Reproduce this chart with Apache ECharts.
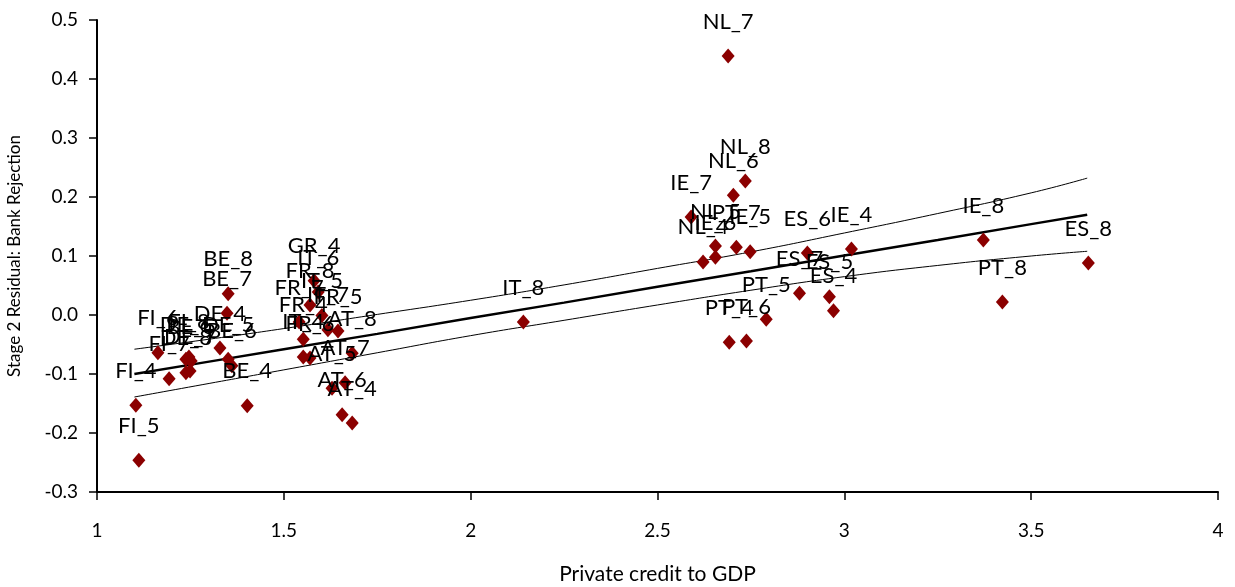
<!DOCTYPE html>
<html>
<head>
<meta charset="utf-8">
<script src="https://cdn.jsdelivr.net/npm/echarts@6/dist/echarts.min.js"></script>
<style>
  html, body { margin: 0; padding: 0; background: #fff; }
  #chart { width: 1235px; height: 587px; }
</style>
</head>
<body>
<div id="chart"></div>
<script>
// points: country_year, private credit to GDP, stage 2 residual
var names = ['FI_4', 'FI_5', 'FI_6', 'FI_7', 'FI_8',
  'BE_4', 'BE_5', 'BE_6', 'BE_7', 'BE_8',
  'DE_4', 'DE_5', 'DE_6', 'DE_7', 'DE_8',
  'GR_4', 'FR_4', 'FR_5', 'FR_6', 'FR_7', 'FR_8',
  'IT_4', 'IT_5', 'IT_6', 'IT_7', 'IT_8',
  'AT_4', 'AT_5', 'AT_6', 'AT_7', 'AT_8',
  'NL_4', 'NL_5', 'NL_6', 'NL_7', 'NL_8',
  'IE_4', 'IE_5', 'IE_6', 'IE_7', 'IE_8',
  'PT_4', 'PT_5', 'PT_6', 'PT_7', 'PT_8',
  'ES_4', 'ES_5', 'ES_6', 'ES_7', 'ES_8'];
var credit = [1.104, 1.112, 1.163, 1.193, 1.246,
  1.402, 1.252, 1.361, 1.348, 1.351,
  1.329, 1.351, 1.238, 1.249, 1.238,
  1.581, 1.552, 1.645, 1.570, 1.541, 1.570,
  1.552, 1.602, 1.592, 1.618, 2.141,
  1.683, 1.629, 1.656, 1.664, 1.683,
  2.622, 2.655, 2.703, 2.689, 2.735,
  3.019, 2.748, 2.655, 2.590, 3.372,
  2.692, 2.791, 2.738, 2.711, 3.423,
  2.971, 2.960, 2.901, 2.880, 3.653];
var residual = [-0.153, -0.246, -0.064, -0.108, -0.071,
  -0.154, -0.078, -0.086, 0.003, 0.036,
  -0.056, -0.075, -0.075, -0.095, -0.098,
  0.058, -0.041, -0.027, -0.073, -0.012, 0.017,
  -0.071, -0.001, 0.039, -0.025, -0.012,
  -0.183, -0.124, -0.169, -0.115, -0.065,
  0.090, 0.117, 0.203, 0.439, 0.227,
  0.112, 0.107, 0.098, 0.166, 0.127,
  -0.046, -0.007, -0.044, 0.115, 0.022,
  0.007, 0.031, 0.105, 0.037, 0.088];

// fitted line and its band
var bandX = [1.1, 1.3, 1.5, 1.75, 2.0, 2.25, 2.5, 2.75, 3.0, 3.25, 3.5, 3.65];
var fitY = [-0.100, -0.079, -0.058, -0.032, -0.005, 0.021, 0.048, 0.074, 0.101, 0.127, 0.154, 0.170];
var upperY = [-0.058, -0.041, -0.023, 0.001, 0.025, 0.051, 0.079, 0.107, 0.139, 0.172, 0.207, 0.232];
var lowerY = [-0.139, -0.116, -0.093, -0.064, -0.035, -0.009, 0.017, 0.042, 0.065, 0.084, 0.100, 0.108];

var xTicks = [1, 1.5, 2, 2.5, 3, 3.5, 4];
var yTicks = [-0.3, -0.2, -0.1, 0.0, 0.1, 0.2, 0.3, 0.4, 0.5];

function pairs(xs, ys) {
  return xs.map(function (x, i) { return [x, ys[i]]; });
}

var font = 'Lato, "DejaVu Sans", sans-serif';
var chart = echarts.init(document.getElementById('chart'));

var option = {
  animation: false,
  grid: { left: 97, right: 17, top: 20, bottom: 95, containLabel: false, outerBoundsMode: 'none' },
  xAxis: {
    type: 'value',
    min: xTicks[0],
    max: xTicks[xTicks.length - 1],
    interval: 0.5,
    name: 'Private credit to GDP',
    nameLocation: 'middle',
    nameGap: 72,
    nameTextStyle: { fontFamily: font, fontSize: 21, color: '#000' },
    axisLine: { onZero: false, lineStyle: { color: '#000', width: 2 } },
    axisTick: { show: true, length: 8, lineStyle: { color: '#000', width: 1.5 } },
    axisLabel: { margin: 29, fontFamily: font, fontSize: 19, color: '#000' },
    splitLine: { show: false }
  },
  yAxis: {
    type: 'value',
    min: yTicks[0],
    max: yTicks[yTicks.length - 1],
    interval: 0.1,
    name: 'Stage 2 Residual: Bank Rejection',
    nameLocation: 'middle',
    nameGap: 74,
    nameTextStyle: { fontFamily: font, fontSize: 17, color: '#000' },
    axisLine: { show: true, onZero: false, lineStyle: { color: '#000', width: 2 } },
    axisTick: { show: true, length: 8, lineStyle: { color: '#000', width: 1.5 } },
    axisLabel: {
      margin: 19, fontFamily: font, fontSize: 19, color: '#000',
      formatter: function (v) { return v.toFixed(1); }
    },
    splitLine: { show: false }
  },
  series: [{
    type: 'line',
    data: pairs(bandX, upperY),
    smooth: true,
    symbol: 'none',
    lineStyle: { color: '#000', width: 1 },
    z: 1
  }, {
    type: 'line',
    data: pairs(bandX, lowerY),
    smooth: true,
    symbol: 'none',
    lineStyle: { color: '#000', width: 1 },
    z: 1
  }, {
    type: 'line',
    data: pairs(bandX, fitY),
    symbol: 'none',
    lineStyle: { color: '#000', width: 2.5 },
    z: 1
  }, {
    type: 'scatter',
    symbol: 'diamond',
    symbolSize: [13, 15],
    itemStyle: { color: '#8b0000', opacity: 1 },
    data: names.map(function (n, i) { return { name: n, value: [credit[i], residual[i]] }; }),
    label: {
      show: true,
      position: 'top',
      distance: 16,
      formatter: '{b}',
      fontFamily: font,
      fontSize: 22,
      color: '#000'
    },
    z: 3
  }]
};
chart.setOption(option);
</script>
</body>
</html>
